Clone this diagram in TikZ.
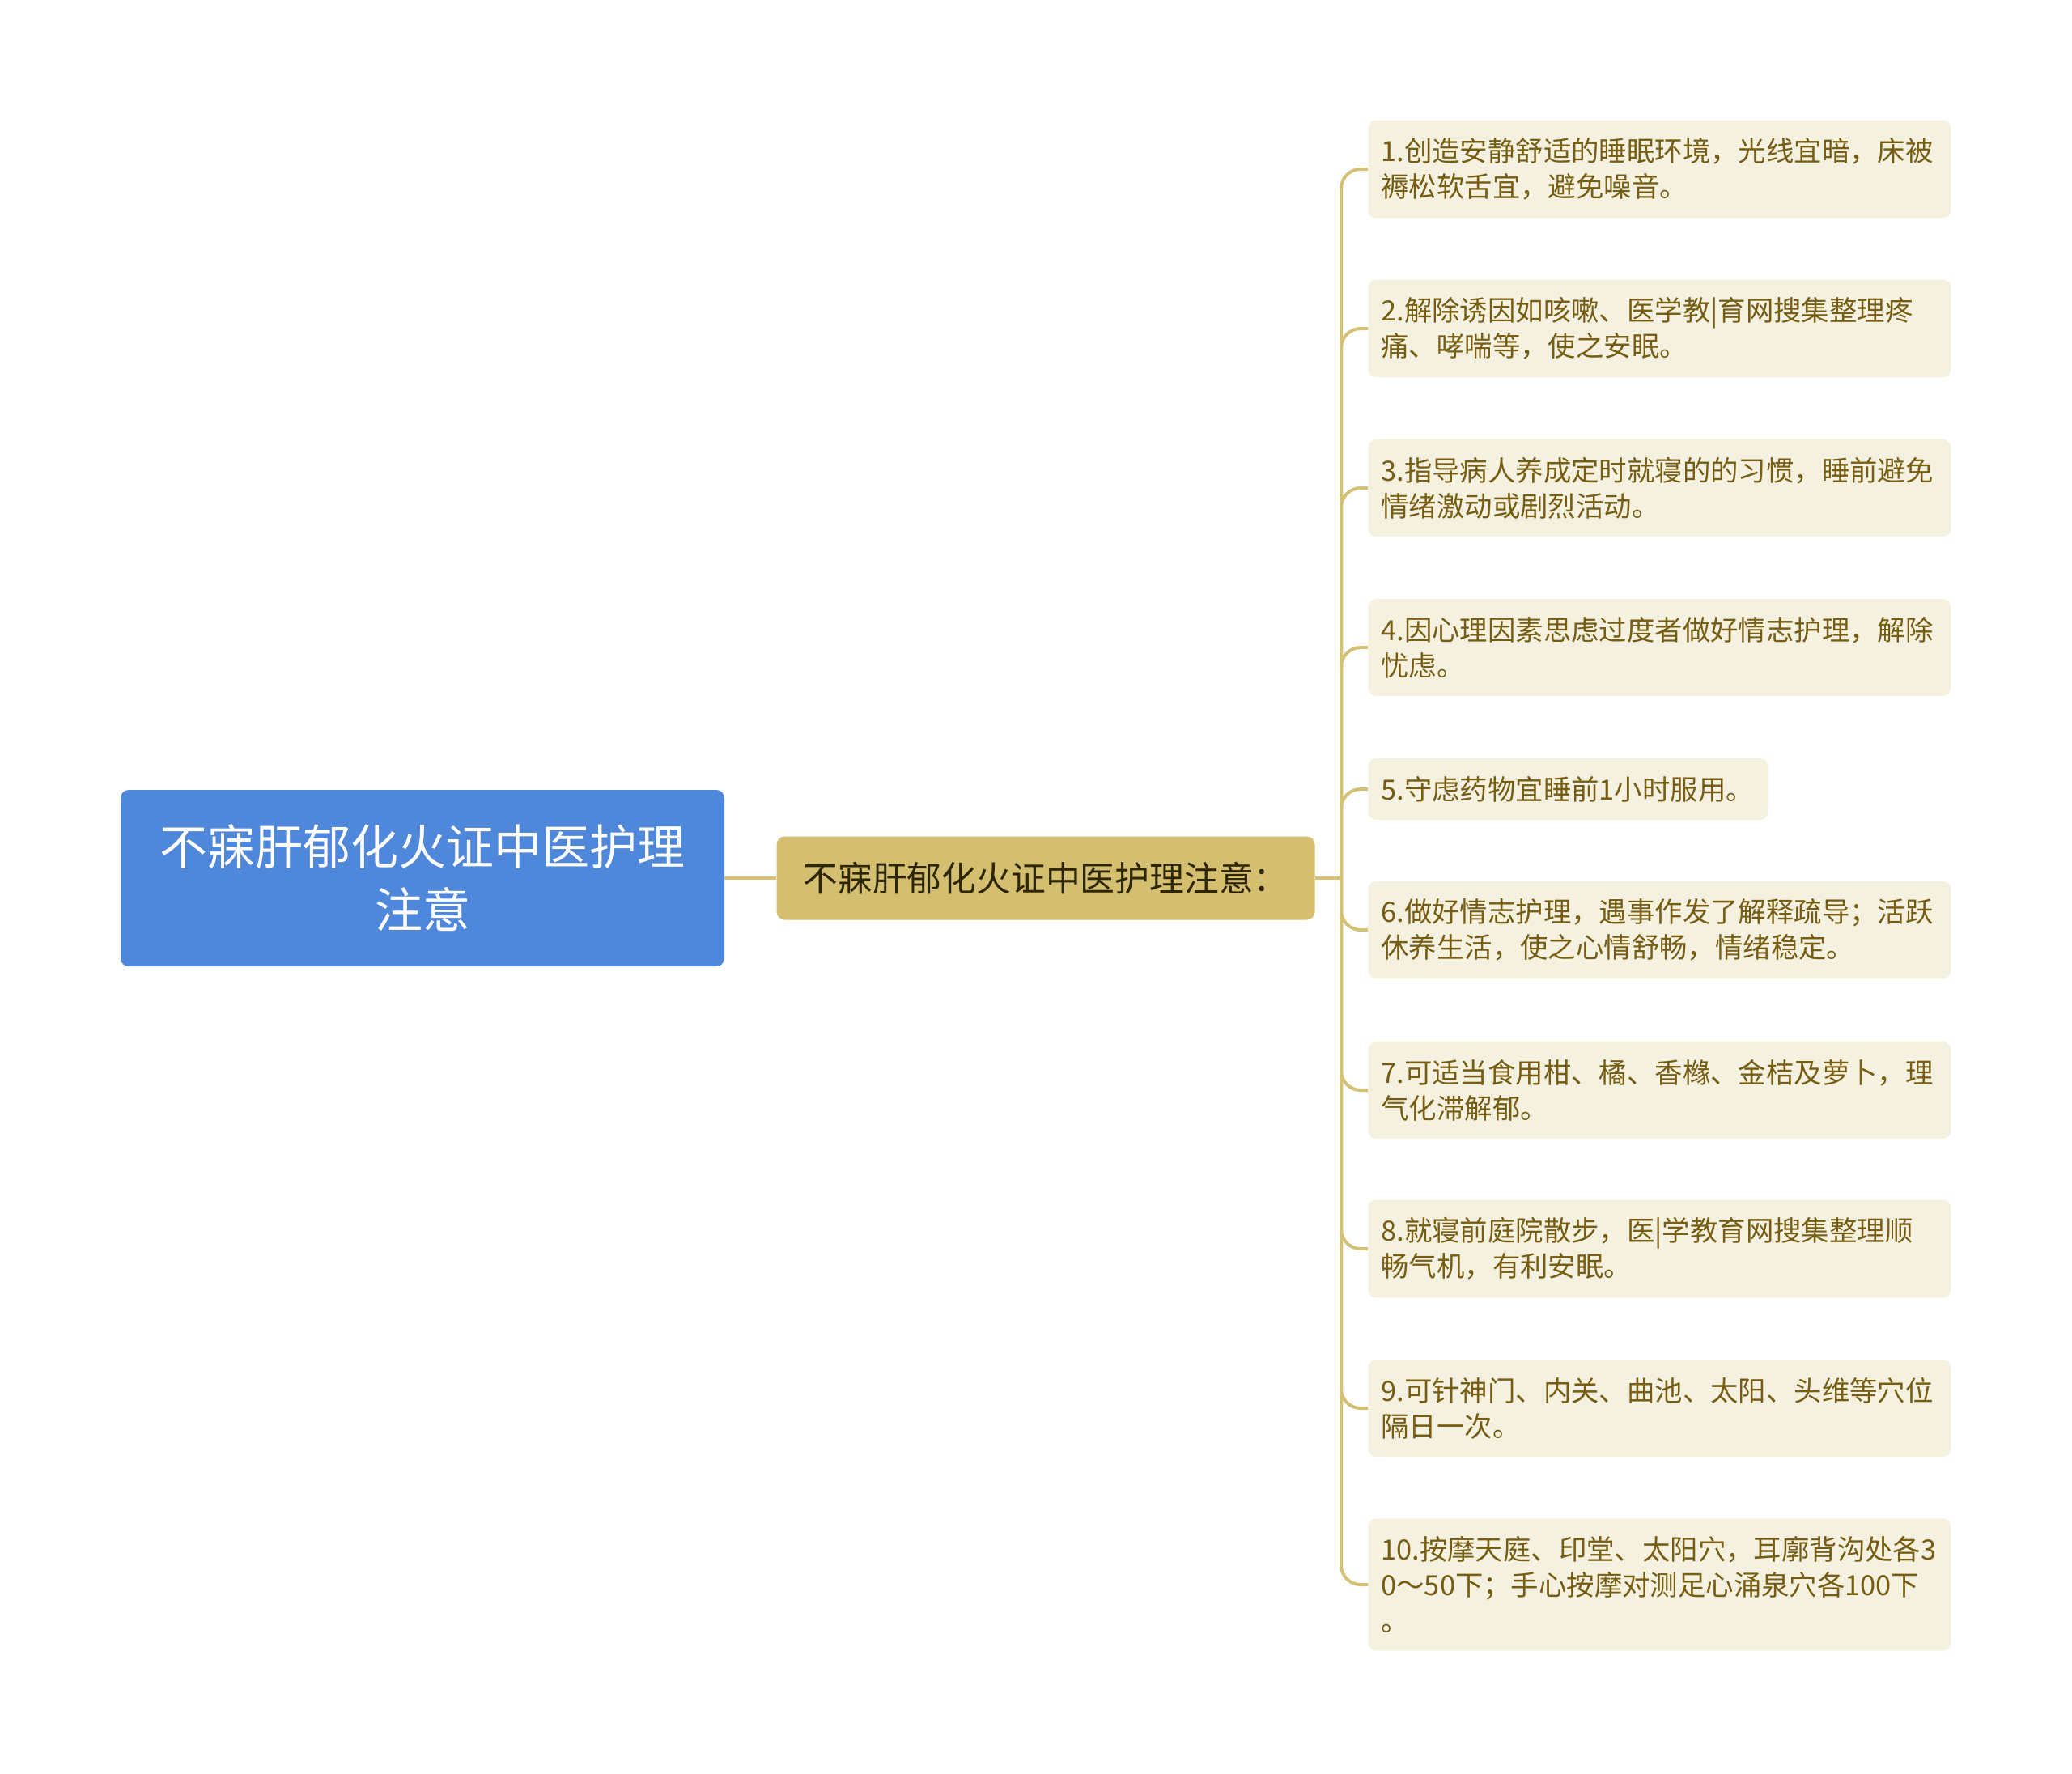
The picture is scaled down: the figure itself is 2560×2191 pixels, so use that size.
\documentclass[tikz,border=0pt]{standalone}
\usepackage{fontspec}
\setmainfont{Noto Sans CJK SC}
\definecolor{rootblue}{RGB}{79,135,219}
\definecolor{subgold}{RGB}{212,190,111}
\definecolor{subtext}{RGB}{45,38,5}
\definecolor{leafbg}{RGB}{245,241,225}
\definecolor{leaftext}{RGB}{118,93,18}
\definecolor{linegold}{RGB}{213,193,118}
\tikzset{
  rootbox/.style={fill=rootblue, text=white, rounded corners=5pt, align=center,
    minimum width=373pt, minimum height=109pt, font=\fontsize{29.5}{39}\selectfont},
  subbox/.style={fill=subgold, text=subtext, rounded corners=5pt,
    minimum width=332.5pt, minimum height=51.5pt, font=\fontsize{21.4}{26}\selectfont},
  leafbox/.style={fill=leafbg, text=leaftext, rounded corners=5pt, anchor=west, align=left,
    inner xsep=8pt, inner ysep=11pt, text width=344pt, font=\fontsize{17.2}{22}\selectfont},
  branch/.style={draw=linegold, line width=2pt, rounded corners=12pt},
}
\begin{document}
\begin{tikzpicture}[x=0.5pt,y=-0.5pt]
\useasboundingbox (0,0) rectangle (2560,2191);

\node[rootbox] (root) at (522,1085) {不寐肝郁化火证中医护理\\注意};
\node[subbox] (sub) at (1292,1085) {不寐肝郁化火证中医护理注意：};
\coordinate (hub) at (1657,1085);

\node[leafbox] (leaf1) at (1690,209) {1.创造安静舒适的睡眠环境，光线宜暗，床被\\褥松软舌宜，避免噪音。};
\node[leafbox] (leaf2) at (1690,406) {2.解除诱因如咳嗽、医学教|育网搜集整理疼\\痛、哮喘等，使之安眠。};
\node[leafbox] (leaf3) at (1690,603) {3.指导病人养成定时就寝的的习惯，睡前避免\\情绪激动或剧烈活动。};
\node[leafbox] (leaf4) at (1690,800) {4.因心理因素思虑过度者做好情志护理，解除\\忧虑。};
\node[leafbox, text width=231pt] (leaf5) at (1690,975) {5.守虑药物宜睡前1小时服用。};
\node[leafbox] (leaf6) at (1690,1149) {6.做好情志护理，遇事作发了解释疏导；活跃\\休养生活，使之心情舒畅，情绪稳定。};
\node[leafbox] (leaf7) at (1690,1347) {7.可适当食用柑、橘、香橼、金桔及萝卜，理\\气化滞解郁。};
\node[leafbox] (leaf8) at (1690,1543) {8.就寝前庭院散步，医|学教育网搜集整理顺\\畅气机，有利安眠。};
\node[leafbox] (leaf9) at (1690,1740) {9.可针神门、内关、曲池、太阳、头维等穴位\\隔日一次。};
\node[leafbox] (leaf10) at (1690,1958) {10.按摩天庭、印堂、太阳穴，耳廓背沟处各3\\0～50下；手心按摩对测足心涌泉穴各100下\\。};

\draw[branch] (root.east) -- (sub.west);
\draw[branch] (sub.east) -- (hub);
\foreach \i in {1,...,10}
  \draw[branch] (hub) |- (leaf\i.west);
\end{tikzpicture}
\end{document}
